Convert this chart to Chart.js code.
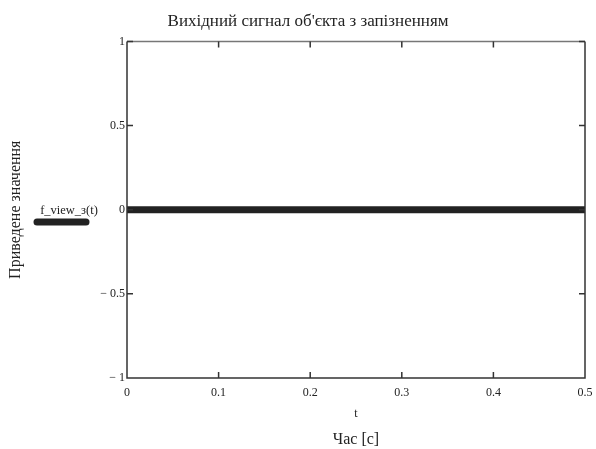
<!DOCTYPE html>
<html>
<head>
<meta charset="utf-8">
<script src="https://cdn.jsdelivr.net/npm/chart.js@4.4.0/dist/chart.umd.min.js"></script>
<style>
  html, body { margin: 0; padding: 0; background: #fff; }
  #chart { display: block; }
</style>
</head>
<body>
<canvas id="chart" width="596" height="449"></canvas>
<script>
const timeValues = [0, 0.1, 0.2, 0.3, 0.4, 0.5];
const signalValues = [0, 0, 0, 0, 0, 0];
const xTickValues = [0, 0.1, 0.2, 0.3, 0.4, 0.5];
const xTickLabels = ["0", "0.1", "0.2", "0.3", "0.4", "0.5"];
const yTickValues = [-1, -0.5, 0, 0.5, 1];
const yTickLabels = ["− 1", "− 0.5", "0", "0.5", "1"];
const seriesName = "f_view_з(t)";

const serif = "'Liberation Serif', 'Times New Roman', serif";
const ink = "#222";

// mathcad style box with inward ticks on all four sides
const framePlugin = {
  id: "frame",
  afterDraw(chart) {
    const { ctx, chartArea: a, scales } = chart;
    const tl = 6;
    ctx.save();
    ctx.lineWidth = 1.5;
    ctx.strokeStyle = "#777";
    ctx.beginPath();
    ctx.moveTo(a.left, a.top); ctx.lineTo(a.right, a.top);
    ctx.stroke();
    ctx.strokeStyle = "#333";
    ctx.beginPath();
    ctx.moveTo(a.right, a.top); ctx.lineTo(a.right, a.bottom);
    ctx.lineTo(a.left, a.bottom); ctx.lineTo(a.left, a.top);
    xTickValues.forEach(v => {
      const x = scales.x.getPixelForValue(v);
      ctx.moveTo(x, a.bottom); ctx.lineTo(x, a.bottom - tl);
      ctx.moveTo(x, a.top); ctx.lineTo(x, a.top + tl);
    });
    yTickValues.forEach(v => {
      const y = scales.y.getPixelForValue(v);
      ctx.moveTo(a.left, y); ctx.lineTo(a.left + tl, y);
      ctx.moveTo(a.right, y); ctx.lineTo(a.right - tl, y);
    });
    ctx.stroke();

    // variable name under the x tick labels
    ctx.fillStyle = ink;
    ctx.font = "12px " + serif;
    ctx.textAlign = "center";
    ctx.textBaseline = "middle";
    ctx.fillText("t", (a.left + a.right) / 2, 414);

    // legend sample on the left side
    const ds = chart.data.datasets[0];
    ctx.lineWidth = 7;
    ctx.lineCap = "round";
    ctx.strokeStyle = ds.borderColor;
    ctx.beginPath();
    ctx.moveTo(37, 222);
    ctx.lineTo(86, 222);
    ctx.stroke();
    ctx.font = "12.5px " + serif;
    ctx.fillText(ds.label, 69, 211);
    ctx.restore();
  }
};

new Chart(document.getElementById("chart"), {
  type: "line",
  data: {
    labels: timeValues,
    datasets: [{
      label: seriesName,
      data: timeValues.map((t, i) => ({ x: t, y: signalValues[i] })),
      borderColor: ink,
      borderWidth: 7,
      borderCapStyle: "butt",
      pointRadius: 0,
      fill: false
    }]
  },
  options: {
    responsive: false,
    animation: false,
    devicePixelRatio: 1,
    layout: { padding: { left: 31, right: 11, top: 0, bottom: 0 } },
    plugins: {
      legend: { display: false },
      tooltip: { enabled: false },
      title: {
        display: true,
        text: "Вихідний сигнал об'єкта з запізненням",
        color: ink,
        font: { family: serif, size: 17, weight: "normal" },
        padding: { top: 11, bottom: 10 }
      }
    },
    scales: {
      x: {
        type: "linear",
        min: 0,
        max: 0.5,
        grid: { display: false, drawTicks: false },
        border: { display: false },
        afterBuildTicks: axis => { axis.ticks = xTickValues.map(v => ({ value: v })); },
        afterFit: axis => {
          axis.height = 71;
          axis.paddingLeft = 0;
          axis.paddingRight = 0;
        },
        ticks: {
          color: ink,
          font: { family: serif, size: 12 },
          padding: 8,
          maxRotation: 0,
          autoSkip: false,
          callback: (v, i) => xTickLabels[i]
        },
        title: {
          display: true,
          text: "Час [c]",
          color: ink,
          font: { family: serif, size: 16 },
          padding: { top: 0, bottom: 0 }
        }
      },
      y: {
        min: -1,
        max: 1,
        grid: { display: false, drawTicks: false },
        border: { display: false },
        afterBuildTicks: axis => { axis.ticks = yTickValues.map(v => ({ value: v })); },
        afterFit: axis => {
          axis.width = 96;
          axis.paddingTop = 0;
          axis.paddingBottom = 0;
        },
        ticks: {
          color: ink,
          font: { family: serif, size: 12 },
          padding: 2,
          autoSkip: false,
          callback: (v, i) => yTickLabels[i]
        },
        title: {
          display: true,
          text: "Приведене значення",
          color: ink,
          font: { family: serif, size: 16 },
          padding: { top: -24.6, bottom: 0 }
        }
      }
    }
  },
  plugins: [framePlugin]
});
</script>
</body>
</html>
